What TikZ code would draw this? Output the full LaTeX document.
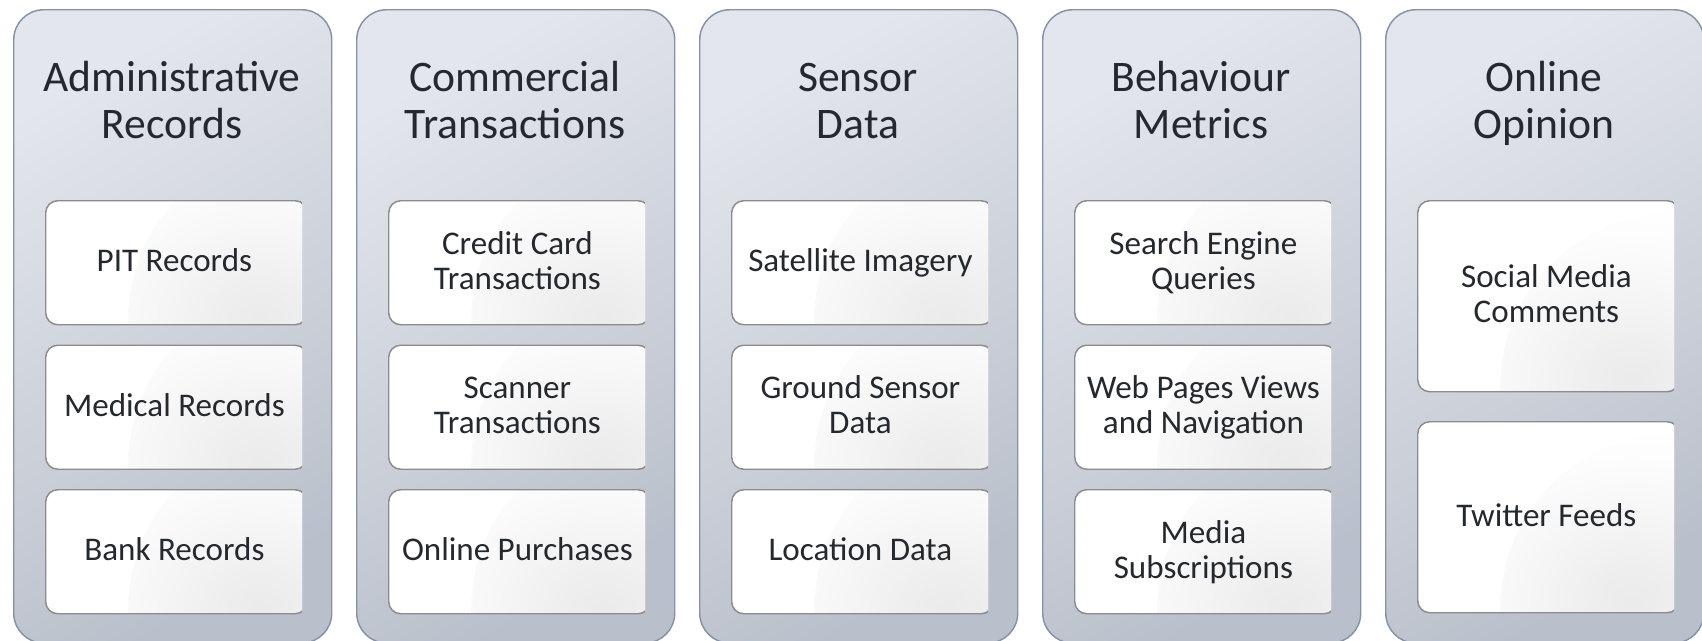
\documentclass[tikz,border=0pt]{standalone}
\usepackage{fontspec}
\setmainfont{Carlito}
\definecolor{colTop}{HTML}{E3E6EC}
\definecolor{colBot}{HTML}{BAC0CB}
\definecolor{colEdge}{HTML}{8493A8}
\definecolor{boxEdge}{HTML}{8C8C8C}
\definecolor{ink}{HTML}{24282F}

% soft grey glow that fades out smoothly
\pgfdeclareradialshading{cornerglow}{\pgfpoint{0bp}{0bp}}{%
  color(0bp)=(black!8); color(5bp)=(black!6.5); color(10bp)=(black!4.5);
  color(15bp)=(black!2.6); color(20bp)=(black!1); color(25bp)=(white);
  color(50bp)=(white)}

% one white category box, trimmed a little on its right side
\newcommand\databox[5]{%
  \begin{scope}
    \clip (#2-6,-#3+6) rectangle (#2+257,-#3-#4-6);
    \node[databox, minimum height=#4*0.75pt, anchor=north west] (#1) at (#2,-#3)
      {\hspace*{-3pt}\raisebox{-1.6pt}[\height][\depth]{\begin{tabular}{@{}c@{}}#5\end{tabular}}};
  \end{scope}}

\begin{document}
\begin{tikzpicture}[x=0.75pt,y=0.75pt,
  column/.style={draw=colEdge, line width=1.1pt, rounded corners=22.5pt,
    minimum width=238.5pt, minimum height=475pt, inner sep=0pt,
    top color=colTop, bottom color=colBot, shading angle=30},
  heading/.style={align=center, text=ink, inner sep=0pt,
    font=\fontsize{32.7}{35}\selectfont, anchor=base},
  databox/.style={draw=boxEdge, line width=1.1pt, fill=white, rounded corners=9pt,
    minimum width=196pt, inner sep=2pt, text=ink,
    font=\fontsize{24.8}{26}\selectfont,
    path picture={\shade[shading=cornerglow]
      ([shift={(-4pt,4pt)}]path picture bounding box.south east) circle (130pt);}}]
\useasboundingbox (0,0) rectangle (1702,-640);

% category columns
\node[column, anchor=north west] (c1) at (13,-9) {};
\node[column, anchor=north west] (c2) at (356,-9) {};
\node[column, anchor=north west] (c3) at (699,-9) {};
\node[column, anchor=north west] (c4) at (1042,-9) {};
\node[column, anchor=north west] (c5) at (1385,-9) {};

% column headings (anchored at the second line's baseline)
\node[heading] (t1) at (172,-138) {Administrative\\Records};
\node[heading] (t2) at (515,-138) {Commercial\\Transactions};
\node[heading] (t3) at (858,-138) {Sensor\\Data};
\node[heading] (t4) at (1201,-138) {Behaviour\\Metrics};
\node[heading] (t5) at (1544,-138) {Online\\Opinion};

% administrative records
\databox{a1}{45}{200}{124}{PIT Records}
\databox{a2}{45}{344.5}{124}{Medical Records}
\databox{a3}{45}{489}{124}{Bank Records}

% commercial transactions
\databox{b1}{388}{200}{124}{Credit Card\\Transactions}
\databox{b2}{388}{344.5}{124}{Scanner\\Transactions}
\databox{b3}{388}{489}{124}{Online Purchases}

% sensor data
\databox{s1}{731}{200}{124}{Satellite Imagery}
\databox{s2}{731}{344.5}{124}{Ground Sensor\\Data}
\databox{s3}{731}{489}{124}{Location Data}

% behaviour metrics
\databox{m1}{1074}{200}{124}{Search Engine\\Queries}
\databox{m2}{1074}{344.5}{124}{Web Pages Views\\and Navigation}
\databox{m3}{1074}{489}{124}{Media\\Subscriptions}

% online opinion
\databox{o1}{1417}{200}{191}{Social Media\\Comments}
\databox{o2}{1417}{421}{191}{Twitter Feeds}
\end{tikzpicture}
\end{document}
